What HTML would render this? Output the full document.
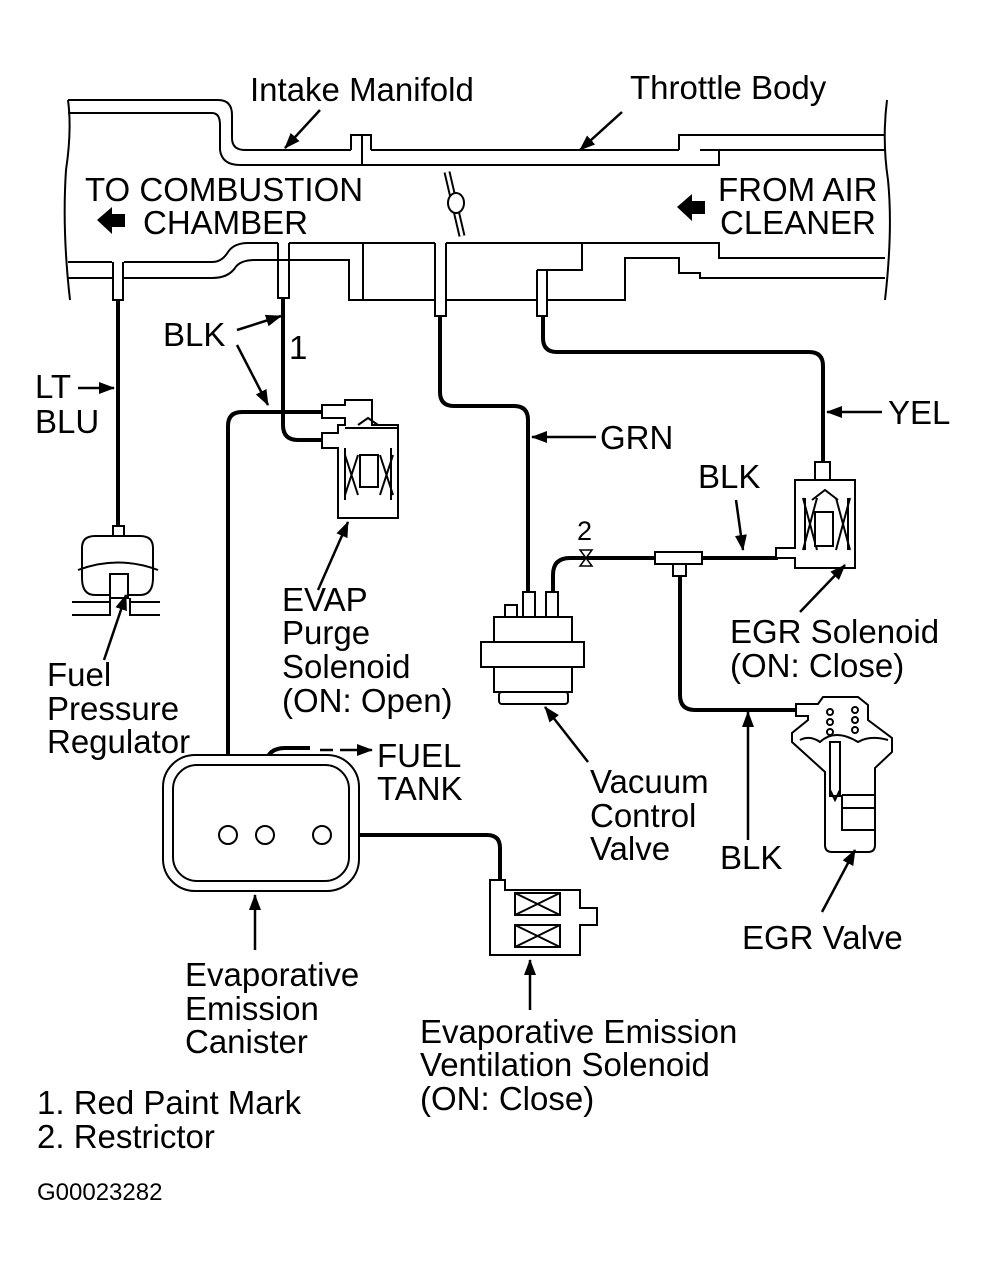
<!DOCTYPE html>
<html><head><meta charset="utf-8"><style>
body{margin:0;background:#fff}
svg{display:block}
text{font-family:"Liberation Sans",sans-serif;font-size:33px;fill:#000}
</style></head><body>
<svg width="987" height="1275" viewBox="0 0 987 1275" xmlns="http://www.w3.org/2000/svg">
<defs><marker id="b" markerWidth="16" markerHeight="12" refX="15" refY="6" orient="auto" markerUnits="userSpaceOnUse"><path d="M0,0 L16,6 L0,12 Z" fill="#000"/></marker></defs>
<g fill="none" stroke="#000" stroke-width="2">
<path d="M68,100 Q72,130 66,170 Q62,230 70,300"/>
<path d="M887,100 Q882,140 888,180 Q893,230 885,300"/>
<path d="M68,100 H218 Q232,100 232,115 V138 Q232,150 245,150 H351 M371,150 H679"/>
<path d="M68,113 H212 Q220,113 220,125 V150 Q222,165 240,165 H719 V150 H700 M700,135 H885 M719,150 H885"/>
<path d="M351,150 V135 H371 V150 M362,135 V165"/>
<path d="M679,150 V135 H700"/>
<path d="M68,262 H112 M124,262 H212 Q222,262 228,252 Q234,243 248,243 H278 M289,243 H435 M446,243 H719 V258 H885"/>
<path d="M68,278 H113 M123,278 H212 Q228,278 235,268 Q240,260 255,260 H349 V300 H435 M446,300 H537 M547,300 H625 V258 H679 V273 H700 V278 H885"/>
<path d="M363,243 V300 M582,243 V270 H537"/>
<path d="M113,262 V300 H123 V262"/>
<path d="M278,243 V298 H289 V243"/>
<path d="M435,243 V316 H446 V243"/>
<path d="M537,270 V316 H547 V270"/>
</g>
<path d="M447,172 L462,236" stroke="#000" stroke-width="7"/>
<path d="M447,172 L462,236" stroke="#fff" stroke-width="3"/>
<ellipse cx="456" cy="203" rx="8" ry="10" fill="#fff" stroke="#000" stroke-width="2"/>
<path d="M97,220 L112,207 V214 H125 V227 H112 V234Z" fill="#000"/>
<path d="M677,207 L692,194 V201 H705 V214 H692 V221Z" fill="#000"/>
<g fill="none" stroke="#000" stroke-width="4">
<path d="M118,300 V528"/>
<path d="M283,298 V425 Q283,440 298,440 H322"/>
<path d="M322,412 H242 Q228,412 228,426 V826"/>
<path d="M440,316 V392 Q440,406 454,406 H514 Q528,406 528,420 V592"/>
<path d="M543,316 V338 Q543,352 557,352 H809 Q823,352 823,366 V464"/>
<path d="M553,592 V575 Q553,558 570,558 H655 M702,558 H778"/>
<path d="M680,572 V695 Q680,710 695,710 H808"/>
<path d="M265,826 V770 Q265,748 285,748 H310"/>
<path d="M331,835 H487 Q500,835 500,848 V880"/>
</g>
<path d="M580,550 L592,550 L586,558 Z M580,566 L592,566 L586,558 Z" fill="#fff" stroke="#000" stroke-width="1.5"/>
<rect x="655" y="552" width="47" height="12" fill="#fff" stroke="#000" stroke-width="2"/>
<rect x="673" y="564" width="13" height="12" fill="#fff" stroke="#000" stroke-width="2"/>
<g fill="#fff" stroke="#000" stroke-width="2">
<path d="M72,615 H110 V598 M160,615 H130 V598 M72,602 H110 M160,602 H130"/>
<rect x="113" y="526" width="11" height="10"/>
<path d="M82,548 Q82,536 95,536 H140 Q153,536 153,548 V578 Q153,595 140,595 H95 Q82,595 82,578Z"/>
<path d="M78,570 Q118,555 158,570" fill="none"/>
<path d="M110,574 H128 V598 H110Z"/>
<path d="M322,405 H345 V400 H372 V425 H398 V518 H338 V448 H322 V433 H338 V425 H345 V418 H322Z"/>
<path d="M345,428 H398 M345,448 V500 M391,448 V500" fill="none"/>
<rect x="360" y="455" width="18" height="32"/>
<path d="M345,455 L358,495 M358,455 L345,495 M380,455 L393,495 M393,455 L380,495" fill="none"/>
<path d="M358,425 L368,418 L378,425" fill="none"/>
<rect x="815" y="462" width="15" height="20"/>
<path d="M795,480 H855 V568 H795 V558 H776 V548 H795Z"/>
<path d="M805,498 V550 M848,498 V550 M803,498 L817,550 M817,498 L803,550 M836,498 L850,550 M850,498 L836,550" fill="none"/>
<rect x="815" y="512" width="18" height="34"/>
<path d="M812,500 L825,490 L838,500" fill="none"/>
<rect x="505" y="605" width="12" height="12"/>
<rect x="523" y="592" width="12" height="25"/>
<rect x="546" y="592" width="12" height="25"/>
<rect x="494" y="617" width="78" height="25"/>
<rect x="481" y="642" width="103" height="25"/>
<rect x="494" y="667" width="78" height="25"/>
<rect x="499" y="692" width="69" height="12" rx="3"/>
<path d="M808,704 H818 L823,697 H858 L868,705 V720 L892,738 V752 L875,768 V845 Q875,852 868,852 H832 Q825,852 825,845 V772 L792,742 V733 L808,720 V716 H796 V704 Z"/>
<path d="M800,740 Q810,735 820,742 Q835,728 858,742 Q870,735 888,740" fill="none"/>
<rect x="830" y="742" width="10" height="54"/>
<path d="M830,790 L835,800 L840,790 M842,795 H875 M842,795 V830 H875 M842,808 H875" fill="none"/>
<circle cx="830" cy="712" r="3"/><circle cx="830" cy="722" r="3"/><circle cx="830" cy="732" r="3"/>
<circle cx="855" cy="710" r="3"/><circle cx="855" cy="720" r="3"/><circle cx="855" cy="730" r="3"/>
<rect x="163" y="755" width="196" height="136" rx="32"/>
<rect x="173" y="765" width="176" height="116" rx="24"/>
<circle cx="228" cy="835" r="9"/><circle cx="265" cy="835" r="9"/><circle cx="322" cy="835" r="9"/>
<path d="M490,880 H505 V890 H580 V908 H597 V925 H580 V955 H490Z"/>
<rect x="515" y="893" width="45" height="22"/>
<rect x="515" y="925" width="45" height="22"/>
<path d="M515,893 L560,915 M560,893 L515,915 M515,925 L560,947 M560,925 L515,947" fill="none"/>
</g>
<g stroke="#000" stroke-width="2.5" fill="none" marker-end="url(#b)">
<path d="M320,110 L285,148"/>
<path d="M622,112 L580,150"/>
<path d="M237,330 L281,316"/>
<path d="M237,345 L268,405"/>
<path d="M78,388 L114,388"/>
<path d="M596,437 L532,437"/>
<path d="M882,412 L827,412"/>
<path d="M736,500 L743,550"/>
<path d="M800,612 L845,565"/>
<path d="M318,590 L348,522"/>
<path d="M104,660 L126,595"/>
<path d="M588,762 L545,707"/>
<path d="M748,840 L748,712"/>
<path d="M822,912 L855,850"/>
<path d="M255,950 L255,895"/>
<path d="M530,1010 L530,960"/>
<path d="M340,750 L372,750"/>
</g>
<path d="M320,750 H333" stroke="#000" stroke-width="2.5"/>
<text x="250" y="101">Intake Manifold</text>
<text x="630" y="99">Throttle Body</text>
<text x="85" y="201">TO COMBUSTION</text>
<text x="143" y="234">CHAMBER</text>
<text x="718" y="201">FROM AIR</text>
<text x="720" y="234">CLEANER</text>
<text x="163" y="346">BLK</text>
<text x="289" y="359">1</text>
<text x="35" y="398">LT</text>
<text x="35" y="433">BLU</text>
<text x="600" y="449">GRN</text>
<text x="888" y="424">YEL</text>
<text x="698" y="488">BLK</text>
<text x="577" y="540" style="font-size:27px">2</text>
<text x="282" y="611">EVAP</text>
<text x="282" y="644">Purge</text>
<text x="282" y="678">Solenoid</text>
<text x="282" y="712">(ON: Open)</text>
<text x="730" y="643">EGR Solenoid</text>
<text x="730" y="677">(ON: Close)</text>
<text x="47" y="686">Fuel</text>
<text x="47" y="720">Pressure</text>
<text x="47" y="753">Regulator</text>
<text x="377" y="767">FUEL</text>
<text x="377" y="800">TANK</text>
<text x="590" y="793">Vacuum</text>
<text x="590" y="827">Control</text>
<text x="590" y="860">Valve</text>
<text x="720" y="869">BLK</text>
<text x="742" y="949">EGR Valve</text>
<text x="185" y="986">Evaporative</text>
<text x="185" y="1020">Emission</text>
<text x="185" y="1053">Canister</text>
<text x="420" y="1043">Evaporative Emission</text>
<text x="420" y="1076">Ventilation Solenoid</text>
<text x="420" y="1110">(ON: Close)</text>
<text x="37" y="1114">1. Red Paint Mark</text>
<text x="37" y="1148">2. Restrictor</text>
<text x="37" y="1200" style="font-size:24px">G00023282</text>
</svg>
</body></html>
